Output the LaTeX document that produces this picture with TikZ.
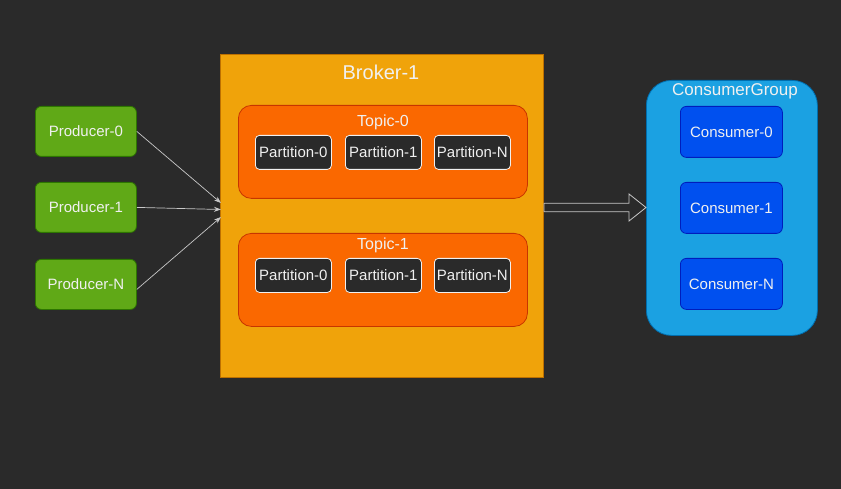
\documentclass[tikz,border=0pt]{standalone}
\usepackage{fontspec}
\setmainfont{Liberation Sans}
\usetikzlibrary{arrows.meta,shapes.arrows}
\definecolor{bg}{HTML}{2A2A2A}
\definecolor{brokerfill}{HTML}{F0A30A}
\definecolor{brokerline}{HTML}{BD7000}
\definecolor{topicfill}{HTML}{FA6800}
\definecolor{topicline}{HTML}{C73500}
\definecolor{prodfill}{HTML}{60A917}
\definecolor{prodline}{HTML}{2D7600}
\definecolor{grpfill}{HTML}{1BA1E2}
\definecolor{grpline}{HTML}{006EAF}
\definecolor{consfill}{HTML}{0050EF}
\definecolor{consline}{HTML}{001DBC}
\definecolor{txt}{HTML}{F0F0F0}
\definecolor{conn}{HTML}{C8C8C8}
\begin{document}
\begin{tikzpicture}[x=1pt,y=-1pt,
  box/.style={draw, line width=0.8pt, rounded corners=6pt, text=txt, font=\fontsize{15}{18}\selectfont, inner sep=0pt, anchor=north west},
  prod/.style={box, fill=prodfill, draw=prodline, minimum width=101pt, minimum height=50pt},
  cons/.style={box, fill=consfill, draw=consline, minimum width=102pt, minimum height=51pt},
  part/.style={box, fill=bg, draw=txt, rounded corners=4pt, minimum width=76pt, minimum height=34pt},
  topicbox/.style={draw=topicline, fill=topicfill, line width=0.8pt, rounded corners=13pt},
  lbl/.style={text=txt, inner sep=0pt},
  feed/.style={draw=conn, line width=0.7pt, -{Stealth[length=7pt,width=5pt]}}
]
\fill[bg] (0,0) rectangle (841,489);
\useasboundingbox (0,0) rectangle (841,489);

% Broker
\node[draw=brokerline, fill=brokerfill, line width=0.8pt, minimum width=323pt, minimum height=323pt, inner sep=0pt, anchor=north west] (broker) at (220,54) {};
\node[lbl, font=\fontsize{20}{24}\selectfont] (brokerlbl) at (381,72) {Broker-1};

% Topic-0
\node[topicbox, minimum width=289pt, minimum height=93pt, inner sep=0pt, anchor=north west] (t0) at (238,105) {};
\node[lbl, font=\fontsize{16}{19}\selectfont] (t0lbl) at (383,122) {Topic-0};
\node[part] (p00) at (255,135) {Partition-0};
\node[part] (p01) at (345,135) {Partition-1};
\node[part] (p0n) at (434,135) {Partition-N};

% Topic-1
\node[topicbox, minimum width=289pt, minimum height=93pt, inner sep=0pt, anchor=north west] (t1) at (238,233) {};
\node[lbl, font=\fontsize{16}{19}\selectfont] (t1lbl) at (383,245) {Topic-1};
\node[part] (p10) at (255,258) {Partition-0};
\node[part] (p11) at (345,258) {Partition-1};
\node[part] (p1n) at (434,258) {Partition-N};

% Producers
\node[prod] (pr0) at (35,106) {Producer-0};
\node[prod] (pr1) at (35,182) {Producer-1};
\node[prod] (prn) at (35,259) {Producer-N};

\coordinate (in0) at (221,203);
\coordinate (in1) at (221,209.5);
\coordinate (inn) at (221,217);
\draw[feed] (pr0.east) -- (in0);
\draw[feed] (pr1.east) -- (in1);
\draw[feed] ([yshift=-5pt]prn.east) -- (inn);

% Consumer group
\node[draw=grpline, fill=grpfill, line width=0.8pt, rounded corners=25pt, minimum width=171pt, minimum height=255pt, inner sep=0pt, anchor=north west] (grp) at (646,80) {};
\node[lbl, font=\fontsize{17}{20}\selectfont] (grplbl) at (735,91) {ConsumerGroup};
\node[cons] (c0) at (680,106) {Consumer-0};
\node[cons] (c1) at (680,182) {Consumer-1};
\node[cons] (cn) at (680,258) {Consumer-N};

% Big arrow broker -> group
\draw[draw=conn, fill=bg, line width=0.8pt]
  (544,203.3) -- (629,203.3) -- (629,194) -- (646,207.5) -- (629,221) -- (629,211.7) -- (544,211.7) -- cycle;
\end{tikzpicture}
\end{document}
